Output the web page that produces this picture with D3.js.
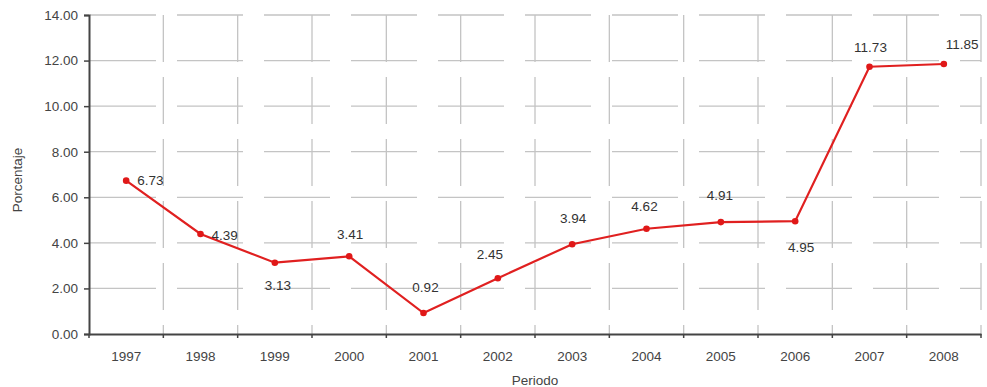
<!DOCTYPE html>
<html><head><meta charset="utf-8">
<script src="https://cdn.jsdelivr.net/npm/d3@7"></script>
<style>
html,body{margin:0;padding:0;background:#fff;}
svg{display:block;font-family:"Liberation Sans",Arial,sans-serif;}
</style></head>
<body>
<svg id="c" width="987" height="387"></svg>
<script>
const years = ["1997","1998","1999","2000","2001","2002","2003","2004","2005","2006","2007","2008"];
const values = [6.73,4.39,3.13,3.41,0.92,2.45,3.94,4.62,4.91,4.95,11.73,11.85];
const labels = ["6.73","4.39","3.13","3.41","0.92","2.45","3.94","4.62","4.91","4.95","11.73","11.85"];
const yTicks = [0,2,4,6,8,10,12,14];
// label placement: [dx, dy, anchor]
const labelPos = [[11,0,"start"],[11,1,"start"],[3,23,"middle"],[1,-22,"middle"],[2,-26,"middle"],[-8,-24,"middle"],[1,-26,"middle"],[-2,-22,"middle"],[-1,-27,"middle"],[6,26,"middle"],[1,-19,"middle"],[2,-20,"start"]];

const svg = d3.select("#c");
const FS = "13.5px";
const L = 89, R = 981, T = 15, B = 334;
const x = d3.scaleBand().domain(years).range([L, R]).padding(0);
const y = d3.scaleLinear().domain([0, 14]).range([B, T]);
const cx = d => x(d) + x.bandwidth()/2;

// grid
const g = svg.append("g");
g.selectAll("line.h").data(yTicks.filter(t => t > 0)).join("line")
  .attr("x1", L + 1).attr("x2", R).attr("y1", d => y(d)).attr("y2", d => y(d))
  .attr("stroke", "#c4c4c4").attr("stroke-width", 1.3).attr("stroke-dasharray", "66,21");
const bounds = years.slice(1).map(d => x(d)).concat([R]);
g.selectAll("line.v").data(bounds).join("line")
  .attr("x1", d => d).attr("x2", d => d).attr("y1", T).attr("y2", B)
  .attr("stroke", "#c4c4c4").attr("stroke-width", 1.3).attr("stroke-dasharray", "47,15");

// y axis
const ya = svg.append("g").attr("transform", `translate(${L},0)`)
  .call(d3.axisLeft(y).tickValues(yTicks).tickFormat(d3.format(".2f")).tickSize(5).tickPadding(6));
ya.select(".domain").attr("stroke", "#444").attr("stroke-width", 2);
ya.selectAll(".tick line").attr("stroke", "#444").attr("stroke-width", 1.5);
ya.selectAll(".tick text").attr("fill", "#444").style("font-size", FS).style("font-family", "'Liberation Sans',Arial,sans-serif");

// x axis
const xa = svg.append("g").attr("transform", `translate(0,${B})`)
  .call(d3.axisBottom(x).tickSize(0).tickPadding(17));
xa.select(".domain").attr("stroke", "#444").attr("stroke-width", 2);
xa.selectAll(".tick text").attr("fill", "#444").style("font-size", FS).style("font-family", "'Liberation Sans',Arial,sans-serif");
svg.append("g").selectAll("line").data([L].concat(bounds)).join("line")
  .attr("x1", d => d).attr("x2", d => d).attr("y1", B).attr("y2", B + 4)
  .attr("stroke", "#444").attr("stroke-width", 1.5);

// axis titles
svg.append("text").attr("x", (L + R) / 2).attr("y", 385).attr("text-anchor", "middle")
  .attr("fill", "#444").style("font-size", FS).text("Periodo");
svg.append("text").attr("transform", "translate(22,180) rotate(-90)").attr("text-anchor", "middle")
  .attr("fill", "#444").style("font-size", FS).text("Porcentaje");

// line
const pts = years.map((d, i) => ({ k: d, v: values[i], l: labels[i], p: labelPos[i] }));
svg.append("path").datum(pts)
  .attr("d", d3.line().x(d => cx(d.k)).y(d => y(d.v)))
  .attr("fill", "none").attr("stroke", "#e02020").attr("stroke-width", 2.2);
svg.selectAll("circle.pt").data(pts).join("circle")
  .attr("cx", d => cx(d.k)).attr("cy", d => y(d.v)).attr("r", 3.3).attr("fill", "#e01818");
svg.selectAll("text.lbl").data(pts).join("text")
  .attr("x", d => cx(d.k) + d.p[0]).attr("y", d => y(d.v) + d.p[1])
  .attr("dy", "0.35em").attr("text-anchor", d => d.p[2])
  .attr("fill", "#333").style("font-size", FS).text(d => d.l);
</script>
</body></html>
